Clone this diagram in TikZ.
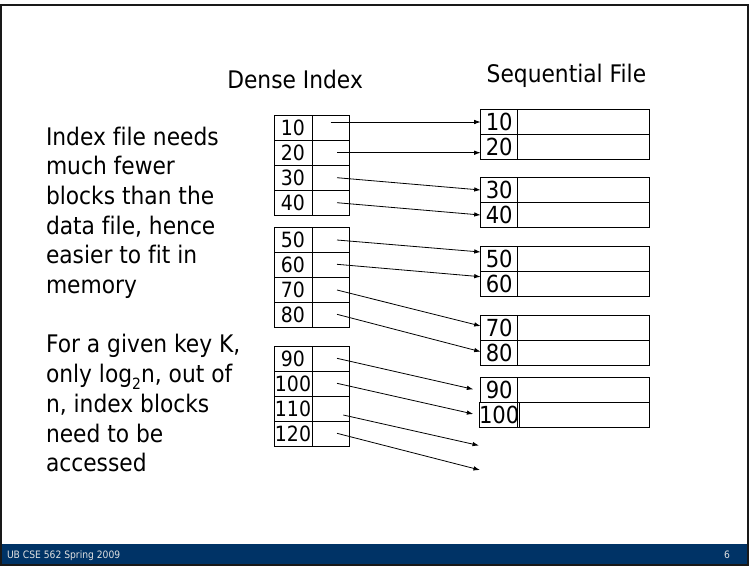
\documentclass[tikz,border=0pt]{standalone}
\usepackage{fontspec}
\setmainfont{DejaVu Sans}[FakeStretch=0.9, Ligatures=NoCommon]
\usetikzlibrary{arrows.meta}
\definecolor{footerblue}{RGB}{0,51,102}
\definecolor{footertext}{RGB}{225,225,225}

\begin{document}
\begin{tikzpicture}[x=1pt,y=-1pt,
  every node/.style={inner sep=0pt, outer sep=0pt},
  body/.style={font=\fontsize{24.2}{29.7}\selectfont, anchor=base west},
  title/.style={font=\fontsize{24.2}{29.7}\selectfont, anchor=base west},
  cell/.style={draw=black, line width=0.9pt, minimum height=25pt},
  keyi/.style={cell, minimum width=38pt, font=\fontsize{21}{21}\selectfont},
  ptri/.style={cell, minimum width=37.3pt},
  keys/.style={cell, minimum width=37pt, font=\fontsize{23.5}{23.5}\selectfont},
  recs/.style={cell, minimum width=131.3pt},
  ptr/.style={-{Latex[length=6.5pt,width=4.5pt]}, line width=0.8pt},
  foot/.style={font=\fontsize{10.2}{11}\selectfont, text=footertext, anchor=base west}
]
\useasboundingbox (0,0) rectangle (749,566);
\fill[white] (0,0) rectangle (749,566);

% slide frame and footer bar
\fill[footerblue] (2,544) rectangle (747,564);
\draw[line width=2.4pt, black!90] (1.2,4.7) rectangle (747.8,565);
\node[foot] (ftxt) at (7,558) {UB CSE 562 Spring 2009};
\node[foot] (fnum) at (724,558) {6};

% headings
\node[title] (hdense) at (227.3,88) {Dense Index};
\node[title] (hseq) at (486.7,82.5) {Sequential File};

% explanatory text
\foreach \n/\t/\y in {
  1/{Index file needs}/145,
  2/{much fewer}/174.7,
  3/{blocks than the}/204.4,
  4/{data file, hence}/234.1,
  5/{easier to fit in}/263.8,
  6/{memory}/293.5,
  7/{For a given key K,}/352.9,
  8/{only log\raisebox{-0.28em}{\fontsize{15.5}{15.5}\selectfont 2}n, out of}/382.6,
  9/{n, index blocks}/412.3,
  10/{need to be}/442,
  11/{accessed}/471.7}
  \node[body] (txt\n) at (46,\y) {\t};

% dense index: key cell and pointer cell per entry
\foreach \k/\y in {10/127.5, 20/152.5, 30/177.5, 40/202.5,
                   50/239.8, 60/264.9, 70/289.9, 80/314.9,
                   90/358.5, 100/383.5, 110/408.5, 120/433.5} {
  \node[keyi] (i\k) at (293,\y) {\k};
  \node[ptri] (p\k) at (330.65,\y) {};
}

% sequential file: key cell and record cell per entry
\foreach \k/\y in {10/121.8, 20/146.8, 30/190.2, 40/215.2,
                   50/259.2, 60/284.2, 70/327.5, 80/352.5,
                   90/389.8, 100/414.8} {
  \node[keys] (s\k) at (499.2,\y) {\k};
  \node[recs] (r\k) at (583.35,\y) {};
}

% pointer origins inside the index
\coordinate (a10) at (330.7,122);
\coordinate (a20) at (337,152.7);
\coordinate (a30) at (337,177.7);
\coordinate (a40) at (337,202.7);
\coordinate (a50) at (337,240);
\coordinate (a60) at (337,264.3);
\coordinate (a70) at (337,290);
\coordinate (a80) at (337,314.3);
\coordinate (a90) at (337,358.3);
\coordinate (a100) at (337,383.3);
\coordinate (a110) at (343.3,415);
\coordinate (a120) at (337,433.3);

% pointer targets at the data blocks
\coordinate (b10) at (480.7,122);
\coordinate (b20) at (480.7,152.7);
\coordinate (b30) at (480.7,190);
\coordinate (b40) at (480.7,215);
\coordinate (b50) at (480.7,252);
\coordinate (b60) at (480.7,276.7);
\coordinate (b70) at (480.7,326);
\coordinate (b80) at (480.7,351.7);
\coordinate (b90) at (473.3,389.3);
\coordinate (b100) at (473.3,414);
\coordinate (b110) at (479,445.5);
\coordinate (b120) at (480,470);

\foreach \k in {10,20,30,40,50,60,70,80,90,100,110,120}
  \draw[ptr] (a\k) -- (b\k);
\end{tikzpicture}
\end{document}
